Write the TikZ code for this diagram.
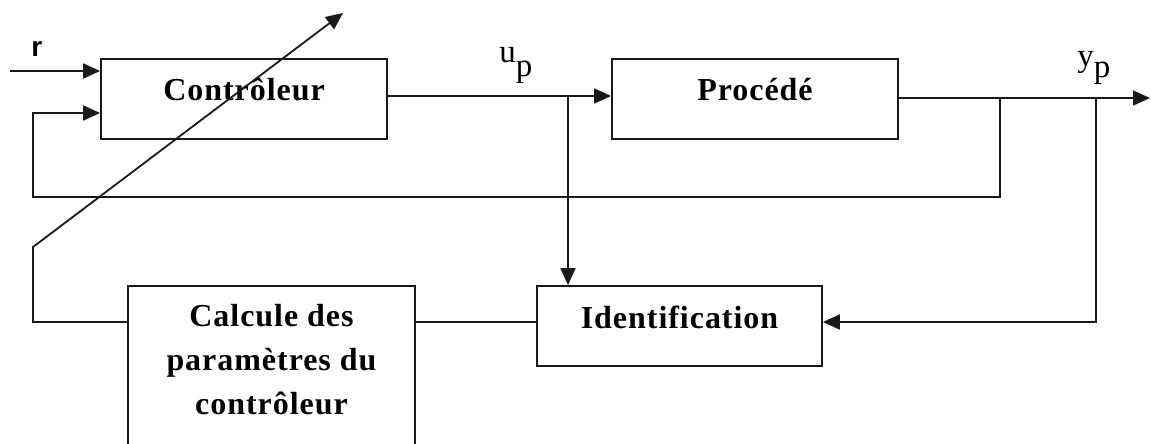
\documentclass[tikz,border=0pt]{standalone}
\usepackage{fontspec}
\setmainfont{Liberation Serif}
\newfontfamily\blockfont[LetterSpace=3]{Liberation Serif}
\newfontfamily\sigfont{Liberation Serif}
\newfontfamily\refsans{Liberation Sans}
\usetikzlibrary{arrows.meta}
\begin{document}
\begin{tikzpicture}[x=0.5pt,y=-0.5pt,
  wire/.style={line width=0.9pt, draw=black!90},
  arr/.style={wire, -{Triangle[length=8.5pt,width=7.5pt]}},
  blk/.style={draw=black!90, line width=0.9pt, inner sep=0pt},
  lbl/.style={font=\blockfont\bfseries\fontsize{16}{22}\selectfont, inner sep=0pt, anchor=base},
  sig/.style={font=\sigfont\fontsize{16.5}{20}\selectfont, inner sep=0pt, anchor=base west},
  rlbl/.style={font=\refsans\bfseries\fontsize{14}{18}\selectfont, inner sep=0pt, anchor=base west},
]
\clip (0,0) rectangle (1151,444);

% blocks
\node[blk, minimum width=143pt, minimum height=40pt] (ctrl) at (244,99) {};
\node[blk, minimum width=143pt, minimum height=40pt] (proc) at (755,99) {};
\node[blk, minimum width=142.5pt, minimum height=40pt] (ident) at (679.5,326) {};
\node[blk, minimum width=143.5pt, minimum height=97pt] (calc) at (271.5,383) {};

% block texts
\node[lbl] (ctrlT) at ([yshift=-1pt]ctrl.center) {Contrôleur};
\node[lbl] (procT) at ([yshift=-1pt]proc.center) {Procédé};
\node[lbl] (identT) at ([yshift=-1pt]ident.center) {Identification};
\node[lbl] (calcT1) at (271.5,326) {Calcule des};
\node[lbl] (calcT2) at (271.5,370) {paramètres du};
\node[lbl] (calcT3) at (271.5,414) {contrôleur};

% signal labels
\node[rlbl] (r) at (31,57) {r};
\node[sig] (up) at (499,63) {u\raisebox{-7pt}{p}};
\node[sig] (yp) at (1077,67) {y\raisebox{-5.5pt}{p}};

% junctions and corners
\coordinate (rin) at (10,71);
\coordinate (jup) at (568,96);
\coordinate (jfb) at (1000,98);
\coordinate (jid) at (1096,98);
\coordinate (yout) at (1150,98);
\coordinate (fbleft) at (33,197);
\coordinate (lowline) at (0,322);
\coordinate (diagL) at (33,247);
\coordinate (diagTip) at (343,13);

% connectors
\draw[arr] (rin) -- (ctrl.west |- rin);
\draw[arr] (ctrl.east |- jup) -- (proc.west |- jup);
\draw[arr] (jup) -- (jup |- ident.north);
\draw[arr] (proc.east |- yout) -- (yout);
\draw[arr] (jfb) |- (fbleft) |- ([yshift=-7pt]ctrl.west);
\draw[arr] (jid) |- (ident.east |- lowline);
\draw[wire] (ident.west |- lowline) -- (calc.east |- lowline);
\draw[arr] (calc.west |- lowline) -| (diagL) -- (diagTip);
\end{tikzpicture}
\end{document}
